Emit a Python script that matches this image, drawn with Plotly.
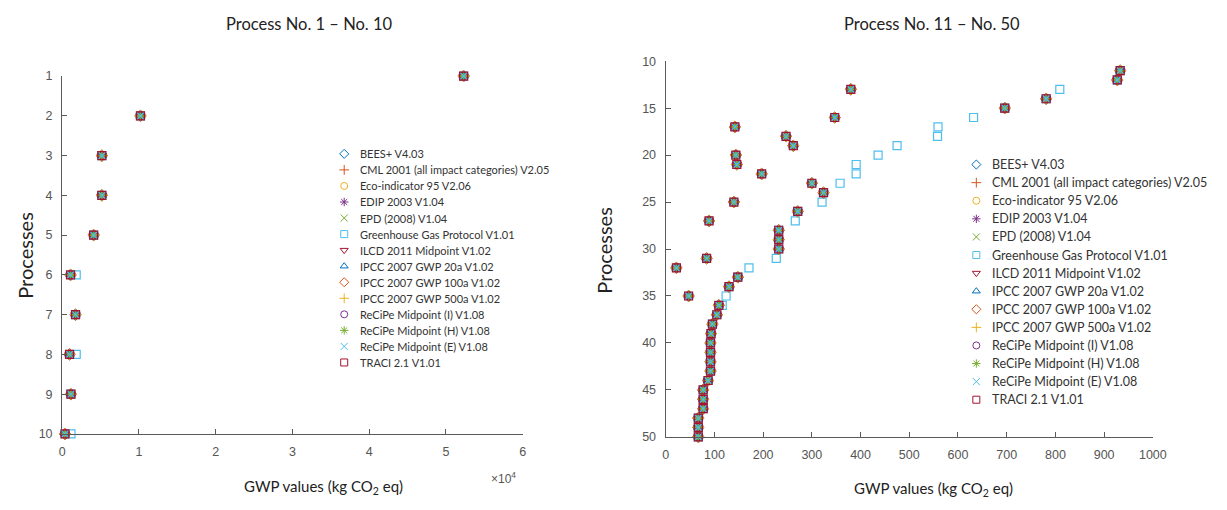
import plotly.graph_objects as go

# LCIA methods compared for each process
methods = [
    "BEES+ V4.03",
    "CML 2001 (all impact categories) V2.05",
    "Eco-indicator 95 V2.06",
    "EDIP 2003 V1.04",
    "EPD (2008) V1.04",
    "Greenhouse Gas Protocol V1.01",
    "ILCD 2011 Midpoint V1.02",
    "IPCC 2007 GWP 20a V1.02",
    "IPCC 2007 GWP 100a V1.02",
    "IPCC 2007 GWP 500a V1.02",
    "ReCiPe Midpoint (I) V1.08",
    "ReCiPe Midpoint (H) V1.08",
    "ReCiPe Midpoint (E) V1.08",
    "TRACI 2.1 V1.01",
]

processes_a = list(range(1, 11))
processes_b = list(range(11, 51))

# GWP (kg CO2 eq), processes 1-10: value shared by all methods except GHG Protocol
gwp_a_common = [52300, 10200, 5170, 5170, 4100, 1090, 1740, 960, 1140, 370]
gwp_a_ghg = [52300, 10200, 5170, 5170, 4100, 1830, 1740, 1830, 1140, 1150]

# GWP (kg CO2 eq), processes 11-50
gwp_b_common = [933, 927, 380, 781, 696, 347, 142, 247, 262, 144,
                146, 197, 300, 324, 140, 271, 89, 232, 232, 232,
                84, 22, 148, 130, 47, 109, 105, 96, 93, 92,
                92, 92, 92, 87, 77, 77, 77, 67, 67, 67]
gwp_b_ghg = [933, 927, 809, 781, 696, 632, 559, 558, 475, 436,
             391, 391, 358, 324, 321, 271, 266, 232, 232, 232,
             227, 171, 148, 130, 124, 116, 105, 96, 93, 92,
             92, 92, 92, 87, 77, 77, 77, 67, 67, 67]

left_xticks = [0, 10000, 20000, 30000, 40000, 50000, 60000]
left_xticktext = ["0", "1", "2", "3", "4", "5", "6"]

symbols = ["diamond-open", "cross-thin-open", "circle-open", "asterisk-open",
           "x-thin-open", "square-open", "triangle-down-open", "triangle-up-open",
           "diamond-open", "cross-thin-open", "circle-open", "asterisk-open",
           "x-thin-open", "square-open"]
colors = ["#0072BD", "#D95319", "#EDB120", "#7E2F8E", "#77AC30", "#4DBEEE",
          "#A2142F", "#0072BD", "#D95319", "#EDB120", "#7E2F8E", "#77AC30",
          "#4DBEEE", "#A2142F"]

LABEL_FONT = "Lato"
TICK_FONT = "Liberation Sans"
GREY = "#555555"
AXIS_GREY = "#5a5a5a"
W, H = 1227, 510

# Panel frames in pixels: (left, right, top, bottom) and their data ranges
PANELS = {
    "a": dict(px=(60, 527, 71, 439), xr=(0, 60000), yr=(1, 10), axes=("x", "y")),
    "b": dict(px=(672, 1166, 55.7, 442), xr=(0, 1000), yr=(10, 50), axes=("x2", "y2")),
}


def to_data(panel, xp, yp):
    p = PANELS[panel]
    l, r, t, b = p["px"]
    x0, x1 = p["xr"]
    y0, y1 = p["yr"]
    return (x0 + (xp - l) / (r - l) * (x1 - x0),
            y0 + (yp - t) / (b - t) * (y1 - y0))


fig = go.Figure()

for name, sym, col in zip(methods, symbols, colors):
    is_ghg = name.startswith("Greenhouse")
    xa = gwp_a_ghg if is_ghg else gwp_a_common
    xb = gwp_b_ghg if is_ghg else gwp_b_common
    mk = dict(symbol=sym, size=8, color=col, line=dict(color=col, width=1.2))
    fig.add_trace(go.Scatter(x=xa, y=processes_a, mode="markers", marker=mk,
                             xaxis="x", yaxis="y", cliponaxis=False,
                             showlegend=False, name=name))
    fig.add_trace(go.Scatter(x=xb, y=processes_b, mode="markers", marker=mk,
                             xaxis="x2", yaxis="y2", cliponaxis=False,
                             showlegend=False, name=name))

# Legends drawn inside each panel
legend_boxes = [
    dict(panel="a", x=346, y=151, dy=16.5, size=11),
    dict(panel="b", x=987, y=162, dy=18.6, size=12.5),
]
annotations = []
for box in legend_boxes:
    xaxis, yaxis = PANELS[box["panel"]]["axes"]
    for i, (name, sym, col) in enumerate(zip(methods, symbols, colors)):
        yy = box["y"] + i * box["dy"]
        mx, my = to_data(box["panel"], box["x"], yy)
        fig.add_trace(go.Scatter(
            x=[mx], y=[my], mode="markers", xaxis=xaxis, yaxis=yaxis,
            cliponaxis=False,
            marker=dict(symbol=sym, size=7, color=col, line=dict(color=col, width=1)),
            showlegend=False, hoverinfo="skip"))
        annotations.append(dict(
            x=(box["x"] + 14) / W, y=1 - yy / H, xref="paper", yref="paper",
            text=name, showarrow=False, xanchor="left", yanchor="middle",
            font=dict(family=LABEL_FONT, size=box["size"], color="#333333")))


def label(text, xp, yp, size, angle=0, family=LABEL_FONT, color="#222222"):
    annotations.append(dict(x=xp / W, y=1 - yp / H, xref="paper", yref="paper",
                            text=text, showarrow=False, textangle=angle,
                            xanchor="center", yanchor="middle",
                            font=dict(family=family, size=size, color=color)))


label("Process No. 1 – No. 10", 311, 17, 16.5)
label("Process No. 11 – No. 50", 942, 17, 16.5)
label("Processes", 22, 255, 20, angle=-90)
label("Processes", 610, 250, 20, angle=-90)
label("GWP values (kg CO<sub>2</sub> eq)", 325, 494, 15)
label("GWP values (kg CO<sub>2</sub> eq)", 944, 496, 15)
label("×10<sup>4</sup>", 508, 484, 12, family=TICK_FONT, color=GREY)

axis_common = dict(showgrid=False, zeroline=False,
                   showline=True, linecolor=AXIS_GREY, linewidth=1.2, mirror=False,
                   ticks="inside", ticklen=5, tickwidth=1, tickcolor=AXIS_GREY,
                   tickfont=dict(family=TICK_FONT, size=12.5, color=GREY),
                   ticklabelstandoff=6, layer="above traces")


def frame(panel):
    l, r, t, b = PANELS[panel]["px"]
    return [l / W, r / W], [1 - b / H, 1 - t / H]


xd_a, yd_a = frame("a")
xd_b, yd_b = frame("b")

fig.update_layout(
    width=W, height=H, margin=dict(l=0, r=0, t=0, b=0),
    paper_bgcolor="white", plot_bgcolor="white", showlegend=False,
    annotations=annotations,
    xaxis=dict(domain=xd_a, range=list(PANELS["a"]["xr"]), anchor="y",
               tickvals=left_xticks, ticktext=left_xticktext, **axis_common),
    yaxis=dict(domain=yd_a, range=list(PANELS["a"]["yr"][::-1]), anchor="x",
               tickvals=processes_a, **axis_common),
    xaxis2=dict(domain=xd_b, range=list(PANELS["b"]["xr"]), anchor="y2",
                tickvals=list(range(0, 1001, 100)), **axis_common),
    yaxis2=dict(domain=yd_b, range=list(PANELS["b"]["yr"][::-1]), anchor="x2",
                tickvals=list(range(10, 51, 5)), **axis_common),
)

fig.write_html("out.html")
